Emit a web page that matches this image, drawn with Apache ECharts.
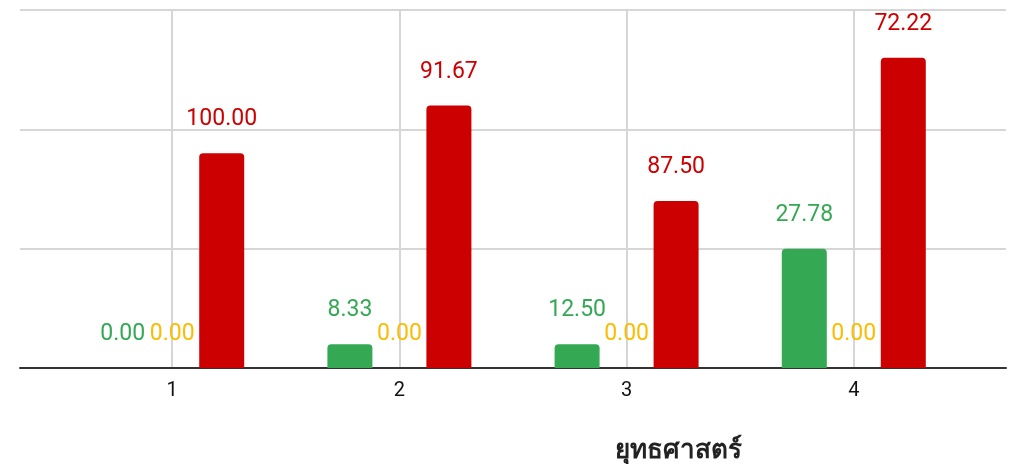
<!DOCTYPE html>
<html>
<head>
<meta charset="utf-8">
<script src="https://cdn.jsdelivr.net/npm/echarts@6/dist/echarts.min.js"></script>
<style>
html,body{margin:0;padding:0;background:#fff;}
#chart{width:1015px;height:464px;}
</style>
</head>
<body>
<div id="chart"></div>
<script>
const categories = [1, 2, 3, 4];
const greenCounts = [0, 1, 1, 5];
const yellowCounts = [0, 0, 0, 0];
const redCounts = [9, 11, 7, 13];
const greenPct = ['0.00', '8.33', '12.50', '27.78'];
const yellowPct = ['0.00', '0.00', '0.00', '0.00'];
const redPct = ['100.00', '91.67', '87.50', '72.22'];
const yTicks = [0, 5, 10, 15];
const axisTitle = 'ยุทธศาสตร์';

const chart = echarts.init(document.getElementById('chart'), null, {renderer: 'canvas'});
const FONT = 'Roboto, "Noto Sans", sans-serif';

function mkSeries(name, counts, labels, color, labelColor) {
  return {
    name: name,
    type: 'bar',
    barWidth: 45,
    barGap: '10%',
    data: categories.map((c, i) => [c, counts[i]]),
    itemStyle: {color: color, borderRadius: [4, 4, 0, 0]},
    label: {
      show: true,
      position: 'top',
      distance: 22,
      color: labelColor,
      fontFamily: FONT,
      fontSize: 23,
      formatter: p => labels[p.dataIndex]
    }
  };
}

chart.setOption({
  animation: false,
  grid: {left: 20, right: 9, top: 10, bottom: 96},
  xAxis: {
    type: 'value',
    min: 0.33,
    max: 4.67,
    axisLine: {show: true, onZero: false, lineStyle: {color: '#333', width: 2}},
    axisTick: {show: false, customValues: categories},
    axisLabel: {customValues: categories, color: '#111', fontFamily: FONT, fontSize: 20, margin: 13},
    splitLine: {show: true, lineStyle: {color: '#d6d6d6', width: 2}}
  },
  yAxis: {
    type: 'value',
    min: yTicks[0],
    max: yTicks[yTicks.length - 1],
    interval: yTicks[1] - yTicks[0],
    axisLabel: {show: false},
    axisLine: {show: false},
    axisTick: {show: false},
    splitLine: {show: true, lineStyle: {color: '#d6d6d6', width: 2}}
  },
  graphic: [{
    type: 'text',
    x: 678,
    y: 451,
    style: {
      text: axisTitle,
      align: 'center',
      verticalAlign: 'middle',
      font: 'bold 26px "Noto Sans", sans-serif',
      fill: '#222'
    }
  }],
  series: [
    mkSeries('green', greenCounts, greenPct, '#34a853', '#34a853'),
    mkSeries('yellow', yellowCounts, yellowPct, '#fbbc04', '#fbbc04'),
    mkSeries('red', redCounts, redPct, '#cc0000', '#cc0000')
  ]
});
</script>
</body>
</html>
